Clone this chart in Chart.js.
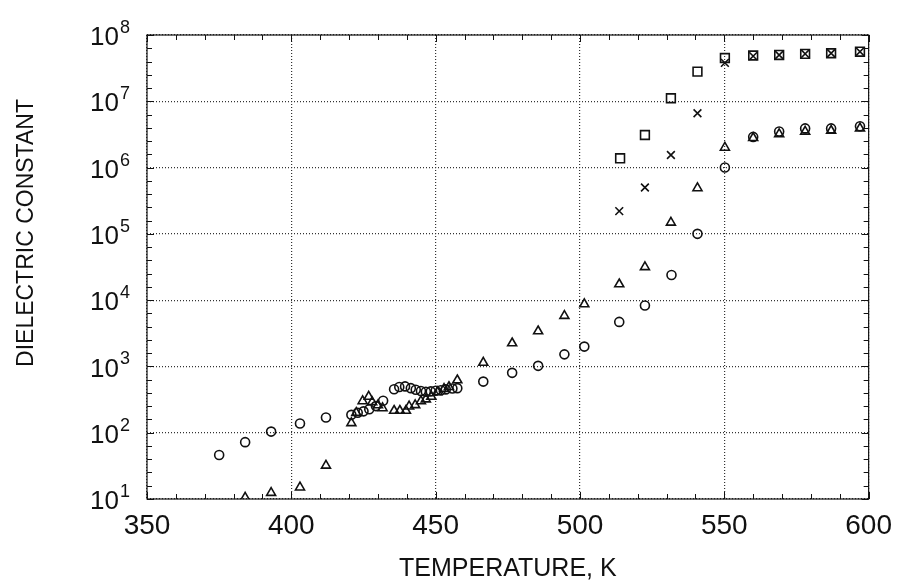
<!DOCTYPE html>
<html>
<head>
<meta charset="utf-8">
<script src="https://cdn.jsdelivr.net/npm/chart.js@4/dist/chart.umd.min.js"></script>
<style>
    html, body { margin: 0; padding: 0; background: #fff; }
    #dielChart { display: block; }
</style>
</head>
<body>
<canvas id="dielChart" width="902" height="584"></canvas>
<script>
// circles
var circleTemp = [375, 384, 393, 403, 412, 420.8, 423, 425, 427, 429.3, 431.8, 435.6, 437.4, 439.4, 441.4, 443.1, 444.9, 446.6, 448.3, 450, 451.8, 453.5, 455.8, 457.5, 466.5, 476.5, 485.5, 494.6, 501.5, 513.6, 522.5, 531.7, 540.7, 550.2, 560, 569, 578, 587, 597];
var circleEps = [46, 72, 104, 138, 170, 186, 200, 210, 226, 252, 303, 452, 490, 500, 470, 445, 425, 415, 420, 430, 438, 450, 465, 470, 590, 800, 1020, 1520, 1990, 4700, 8300, 24000, 1.0e5, 1.0e6, 2.9e6, 3.5e6, 3.9e6, 3.9e6, 4.2e6];

// triangles
var triTemp = [384, 393, 403, 412, 420.8, 422.5, 424.7, 426.8, 428, 430, 431.6, 435.6, 437.6, 439.7, 440.8, 442.9, 444.9, 446.6, 448.5, 450.6, 452.9, 454.6, 457.5, 466.5, 476.5, 485.5, 494.6, 501.5, 513.6, 522.5, 531.5, 540.7, 550.2, 560, 569, 578, 587, 597];
var triEps = [10.5, 12.4, 15, 32, 140, 200, 300, 350, 290, 260, 235, 215, 215, 215, 250, 262, 300, 320, 350, 410, 460, 490, 620, 1140, 2240, 3400, 5800, 8700, 17400, 31600, 1.48e5, 4.9e5, 2.0e6, 2.8e6, 3.2e6, 3.5e6, 3.6e6, 3.9e6];

// crosses
var crossTemp = [513.6, 522.5, 531.5, 540.7, 550.2, 560, 569, 578, 587, 597];
var crossEps = [2.2e5, 5.0e5, 1.55e6, 6.6e6, 3.8e7, 4.8e7, 5.0e7, 5.2e7, 5.3e7, 5.6e7];

// squares
var squareTemp = [513.9, 522.5, 531.5, 540.7, 550.2, 560, 569, 578, 587, 597];
var squareEps = [1.38e6, 3.1e6, 1.11e7, 2.8e7, 4.5e7, 4.9e7, 5.0e7, 5.2e7, 5.3e7, 5.6e7];

var xTicks = [350, 400, 450, 500, 550, 600];
var yExponents = [1, 2, 3, 4, 5, 6, 7, 8];

var xTitle = 'TEMPERATURE, K';
var yTitle = 'DIELECTRIC CONSTANT';

var fontFamily = '"Liberation Sans", Arial, sans-serif';

function toPoints(xs, ys) {
    return xs.map(function (x, i) { return { x: x, y: ys[i] }; });
}

function markerSet(data, style, radius) {
    return {
        data: data,
        pointStyle: style,
        pointRadius: radius,
        pointHoverRadius: radius,
        pointBorderWidth: 1.6,
        borderColor: '#111',
        backgroundColor: 'rgba(255,255,255,0)',
        showLine: false
    };
}

// box, inner tick marks, superscript y labels and y title
var framePlugin = {
    id: 'frame',
    afterDraw: function (chart) {
        var ctx = chart.ctx;
        var a = chart.chartArea;
        var xs = chart.scales.x;
        var ys = chart.scales.y;

        ctx.save();
        ctx.strokeStyle = '#111';
        ctx.lineWidth = 1.2;
        ctx.strokeRect(a.left, a.top, a.right - a.left, a.bottom - a.top);

        ctx.lineWidth = 1;
        ctx.beginPath();
        for (var t = 350; t <= 600; t += 10) {
            var px = Math.round(xs.getPixelForValue(t)) + 0.5;
            var len = (t % 50 === 0) ? 7 : 5;
            ctx.moveTo(px, a.bottom); ctx.lineTo(px, a.bottom - len);
            ctx.moveTo(px, a.top); ctx.lineTo(px, a.top + len);
        }
        for (var k = 1; k <= 8; k++) {
            for (var j = 0; j < 5; j++) {
                if (k === 8 && j > 0) break;
                var py = Math.round(ys.getPixelForValue(Math.pow(10, k + j / 5))) + 0.5;
                var l2 = (j === 0) ? 7 : 5;
                ctx.moveTo(a.left, py); ctx.lineTo(a.left + l2, py);
                ctx.moveTo(a.right, py); ctx.lineTo(a.right - l2, py);
            }
        }
        ctx.stroke();

        // y tick labels as 10 with a raised exponent
        ctx.fillStyle = '#111';
        yExponents.forEach(function (e) {
            var py = ys.getPixelForValue(Math.pow(10, e));
            ctx.font = '26px ' + fontFamily;
            ctx.textAlign = 'right';
            ctx.textBaseline = 'middle';
            ctx.fillText('10', 119, py + 3);
            ctx.font = '18px ' + fontFamily;
            ctx.textAlign = 'left';
            ctx.textBaseline = 'alphabetic';
            ctx.fillText(String(e), 120, py - 2);
        });

        // y title
        ctx.translate(27, 233);
        ctx.rotate(-Math.PI / 2);
        ctx.font = '23px ' + fontFamily;
        ctx.textAlign = 'center';
        ctx.textBaseline = 'middle';
        ctx.fillText(yTitle, 0, 0);
        ctx.restore();
    }
};

function initDielChart() {
    var ctx = document.getElementById('dielChart');

    new Chart(ctx, {
        type: 'scatter',
        data: {
            datasets: [
                markerSet(toPoints(circleTemp, circleEps), 'circle', 4.5),
                markerSet(toPoints(triTemp, triEps), 'triangle', 5.2),
                markerSet(toPoints(crossTemp, crossEps), 'crossRot', 5.5),
                markerSet(toPoints(squareTemp, squareEps), 'rect', 6.2)
            ]
        },
        options: {
            responsive: false,
            animation: false,
            devicePixelRatio: 1,
            layout: { padding: { top: 35, right: 31, left: 0, bottom: 0 } },
            plugins: {
                legend: { display: false },
                tooltip: { enabled: false }
            },
            scales: {
                x: {
                    type: 'linear',
                    min: 350,
                    max: 600,
                    afterBuildTicks: function (s) { s.ticks = xTicks.map(function (v) { return { value: v }; }); },
                    afterFit: function (s) { s.height = 85; },
                    ticks: {
                        color: '#111',
                        padding: 10,
                        maxRotation: 0,
                        font: { family: fontFamily, size: 28 }
                    },
                    grid: { color: '#333', lineWidth: 1.2, drawTicks: false },
                    border: { display: false, dash: [1, 2] },
                    title: {
                        display: true,
                        text: xTitle,
                        color: '#111',
                        padding: 0,
                        font: { family: fontFamily, size: 25 }
                    }
                },
                y: {
                    type: 'logarithmic',
                    min: 10,
                    max: 1e8,
                    afterBuildTicks: function (s) { s.ticks = yExponents.map(function (e) { return { value: Math.pow(10, e) }; }); },
                    afterFit: function (s) { s.width = 147; },
                    ticks: { display: false },
                    grid: { color: '#333', lineWidth: 1.2, drawTicks: false },
                    border: { display: false, dash: [1, 2] }
                }
            }
        },
        plugins: [framePlugin]
    });
}

initDielChart();
</script>
</body>
</html>
